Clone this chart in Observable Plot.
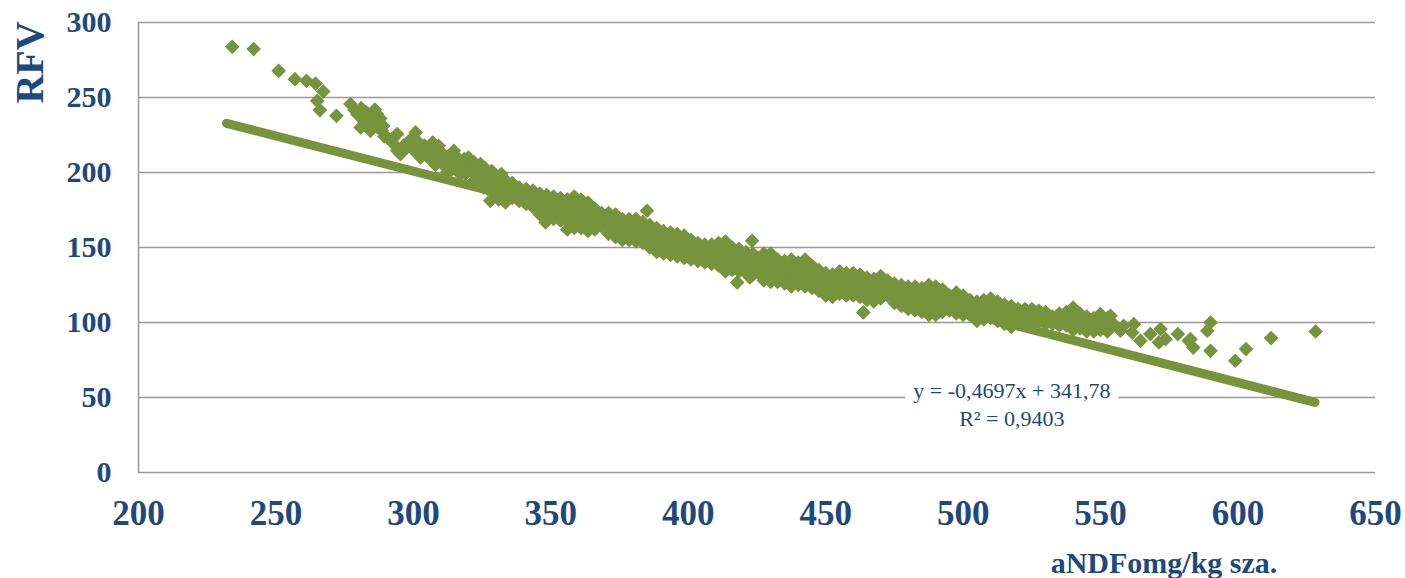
<!DOCTYPE html>
<html><head><meta charset="utf-8">
<script src="https://cdn.jsdelivr.net/npm/d3@7"></script>
<script src="https://cdn.jsdelivr.net/npm/@observablehq/plot@0.6"></script>
<style>
html,body{margin:0;padding:0;background:#fff;}
#chart svg{display:block;}
</style></head><body>
<div id="chart"></div>
<script>
// ---- data (aNDFom g/kg DM vs RFV) ----
const xTicks = [200, 250, 300, 350, 400, 450, 500, 550, 600, 650];
const yTicks = [0, 50, 100, 150, 200, 250, 300];
const xTitle = "aNDFomg/kg sza.";
const yTitle = "RFV";
const eqText = ["y = -0,4697x + 341,78", "R² = 0,9403"];
const trendSlope = -0.4697;
const trendIntercept = 341.78;
const trendRange = [232, 628];

// sparse samples, low fibre end
const pointsLow = [
  [234.1,283.8],[241.9,282.3],[251.0,267.8],[256.9,262.2],[261.1,261.1],[264.4,259.3],
  [267.2,254.0],[265.0,247.8],[266.0,241.6],[272.0,237.8],[277.1,245.6],[278.6,241.6],
  [279.6,238.9],[280.8,230.0],[282.0,234.0],[283.2,236.7],[284.4,227.8],[286.8,238.9],
  [285.0,231.0],[287.5,233.0],[288.5,228.0],[289.5,224.0],[281.0,243.0],[283.0,240.0],
  [285.5,235.0],[286.0,242.0],[288.0,236.0],[287.0,230.0],[289.0,231.0]
];
// 290-335
const points300s = [
  [290.5,223.3],[292.3,222.3],[294.1,225.6],[292.9,218.9],[294.1,214.5],[295.3,212.3],
  [296.5,218.0],[297.7,216.7],[299.0,222.0],[300.8,226.7],[300.2,217.8],[301.4,213.0],
  [302.6,210.0],[303.8,214.0],[305.5,212.0],[306.5,208.0],[308.0,210.0],[309.2,217.8],
  [309.9,213.0],[310.5,208.0],[311.5,204.0],[312.3,205.6],[312.3,200.0],[313.5,210.0],
  [314.7,214.5],[315.5,207.0],[316.5,202.0],[317.1,205.6],[317.1,198.9],[318.5,209.0],
  [319.5,203.0],[320.8,206.0],[321.5,200.0],[322.0,203.5],[322.0,194.5],[323.2,198.0],
  [324.4,205.6],[325.0,201.0],[325.6,190.0],[325.6,193.5],[326.5,197.0],[327.0,189.0],
  [328.0,181.1],[328.5,201.0],[329.2,196.0],[329.5,186.0],[330.5,193.0],
  [298.0,220.0],[300.0,215.0],[302.0,220.0],[304.0,218.0],[306.0,215.0],[307.0,220.0],
  [308.0,205.0],[311.0,212.0],[313.0,207.0],[314.0,202.0],[316.0,210.0],[318.0,204.0],
  [319.0,199.0],[320.0,210.0],[322.0,207.0],[323.0,202.0],[324.0,197.0],[326.0,203.0],
  [327.0,199.0],[327.5,194.0],[328.5,190.0],[330.0,197.0],[330.5,188.0],[332.0,199.0],
  [332.5,185.0]
];
// dense band, columns of [aNDFom, [RFV...]]
const band330s = [
  [331.0,[197,192,187,182]],[333.5,[195,190,185,180]],[336.0,[193,188,183]],
  [338.5,[190,185,181]],[341.0,[189,184,179]],[343.5,[188,183,177]],
  [346.0,[186,181,176,172]],[348.1,[166.7]],[348.5,[185,180,175,170]],
  [351.0,[184,179,174,169]],[353.5,[183,178,173,168]],[356.0,[182,177,172,167,162]],
  [358.5,[184,179,174,168,163]],[361.0,[182,177,172,167,163]],[363.5,[180,175,170,165,161]],
  [366.0,[176,171,166,162]],[368.5,[173,168,164]],[371.0,[173,168,163,159]],
  [373.5,[172,167,162,157]],[376.0,[169,164,159,155]],[378.5,[169,164,159,155]],
  [381.0,[169,164,159,154]],[383.5,[167,162,157,153]],[385.0,[174.5]],
  [386.0,[165,160,155,150]],[388.5,[163,158,152,147]],[391.0,[161,156,151,146]],
  [393.5,[160,155,150,145]],[396.0,[159,154,149,144]],[398.5,[158,153,148,143]]
];
const band400s = [
  [401.0,[155,150,146,142]],[403.5,[153,147,141]],[406.0,[152,146,140]],
  [408.5,[152,147,142,139]],[411.0,[153,148,143,138]],[413.5,[154,149,144,139,134]],
  [416.0,[150,145,140,135]],[417.8,[126.7]],[418.5,[149,144,139,134]],
  [421.0,[147,142,137,133]],[422.4,[130]],[423.2,[154.5]],[423.5,[146,141,136,132]],
  [425.5,[143,138,133]],[427.5,[146,141,136,131,128]],[430.0,[146,141,136,131,127]],
  [432.5,[142,137,132,127]],[435.0,[141,136,131,126]],[437.5,[142,137,132,128,124]],
  [440.0,[140,135,130,125]],[442.5,[142,137,132,128,124]],[445.0,[138,133,128,123]],
  [447.5,[135,130,125,121]],[450.0,[133,128,123,118]],[452.5,[132,127,122,117]],
  [455.0,[134,129,124,119]],[457.5,[133,128,123,118]],[460.0,[133,128,123,118]],
  [462.5,[132,127,122,117]],[463.7,[106.7]],[465.0,[130,125,120,115]],
  [467.5,[129,124,119,114]],[470.0,[131,126,121,116]],[472.5,[128,123,118]],
  [475.0,[126,121,116,113]],[477.5,[125,120,115,111]],[480.0,[124,119,114,109]],
  [482.5,[124,119,113,108]],[485.0,[123,118,113,107]],[487.5,[125,120,115,110,105]],
  [490.0,[124,119,114,109,105]],[492.5,[122,117,112,107]],[495.0,[118,113,108]],
  [497.5,[120,115,110,106]]
];
const band500s = [
  [500.0,[118,113,108,105]],[502.5,[115,110,105]],[505.0,[114,110,105,101]],
  [507.5,[115,110,106,102]],[510.0,[116,111,107,103]],[512.5,[114,109,104,101]],
  [515.0,[112,107,103,99]],[517.5,[111,106,101,97]],[520.0,[109,104,99]],
  [522.5,[109,104,99]],[525.0,[109,104,99]],[527.5,[108,104,100]],
  [530.0,[107,103,99]],[532.5,[104,99]],[535.0,[106,102,98]],[537.5,[107,102,98]],
  [540.0,[110,105,100,95]],[542.5,[106,101,96]],[545.0,[104,99,94]],
  [547.5,[103,98,94]],[549.9,[105.6,100,95]],[552.5,[103,97,94]]
];
// sparse samples, high fibre end
const pointsHigh = [
  [553.6,104.5],[554.8,98.9],[557.2,94.5],[558.4,97.8],[562.1,98.9],[561.5,93.3],
  [564.5,87.8],[568.1,92.3],[571.8,95.6],[571.2,86.7],[573.6,88.9],[578.1,92.3],
  [582.1,87.8],[583.7,83.3],[582.7,88.9],[590.0,100.0],[588.8,94.5],[590.0,81.1],
  [599.0,74.5],[602.9,82.3],[612.0,89.6],[628.2,94.0]
];

// ---- build table ----
const fromPairs = arr => arr.map(([x, y]) => ({x, y}));
const fromColumns = arr => arr.flatMap(([x, ys]) => ys.map(y => ({x, y})));
const points = [
  ...fromPairs(pointsLow), ...fromPairs(points300s),
  ...fromColumns(band330s), ...fromColumns(band400s), ...fromColumns(band500s),
  ...fromPairs(pointsHigh)
];
const trend = trendRange.map(x => ({x, y: trendSlope * x + trendIntercept}));

const green = "#77933C";
const blue = "#1F497D";
const grid = "#999999";

const chart = Plot.plot({
  width: 1405,
  height: 578,
  marginLeft: 138,
  marginRight: 30,
  marginTop: 22,
  marginBottom: 106,
  style: {fontFamily: "'Liberation Serif', 'Times New Roman', serif", background: "#fff"},
  x: {domain: [200, 650]},
  y: {domain: [0, 300]},
  marks: [
    Plot.ruleY(yTicks, {stroke: grid, strokeWidth: 1.5}),
    Plot.ruleX([xTicks[0]], {stroke: grid, strokeWidth: 1.5}),
    Plot.axisY(yTicks, {tickSize: 0, tickPadding: 27, fontSize: 30, fontWeight: "bold", color: blue, label: null}),
    Plot.axisX(xTicks, {tickSize: 0, tickPadding: 28, fontSize: 35, fontWeight: "bold", color: blue, label: null}),
    Plot.dot(points, {x: "x", y: "y", symbol: "diamond2", r: 6.6, fill: green, stroke: "none"}),
    Plot.line(trend, {x: "x", y: "y", stroke: green, strokeWidth: 9, strokeLinecap: "round"}),
    Plot.text([eqText.join("\n")], {x: () => 517.7, y: () => 46.5, text: d => d, fontSize: 22,
      fill: blue, lineHeight: 1.27, textAnchor: "middle", lineAnchor: "middle"}),
    Plot.text([xTitle], {frameAnchor: "bottom", dx: 407, dy: 91, fontSize: 30, fontWeight: "bold",
      fill: blue, textAnchor: "middle", lineAnchor: "middle"}),
    Plot.text([yTitle], {frameAnchor: "top-left", dx: -108, dy: 40, rotate: -90, fontSize: 40,
      fontWeight: "bold", fill: blue, textAnchor: "middle", lineAnchor: "middle"})
  ]
});
document.getElementById("chart").appendChild(chart);

// white box behind the regression label (as in the original chart)
for (const t of chart.querySelectorAll("text")) {
  if (t.textContent.includes("0,4697")) {
    const b = t.getBBox();
    const r = document.createElementNS("http://www.w3.org/2000/svg", "rect");
    r.setAttribute("x", b.x - 8);
    r.setAttribute("y", b.y - 1);
    r.setAttribute("width", b.width + 16);
    r.setAttribute("height", b.height + 2);
    r.setAttribute("fill", "#fff");
    if (t.getAttribute("transform")) r.setAttribute("transform", t.getAttribute("transform"));
    t.parentNode.insertBefore(r, t);
  }
}
</script>
</body></html>
